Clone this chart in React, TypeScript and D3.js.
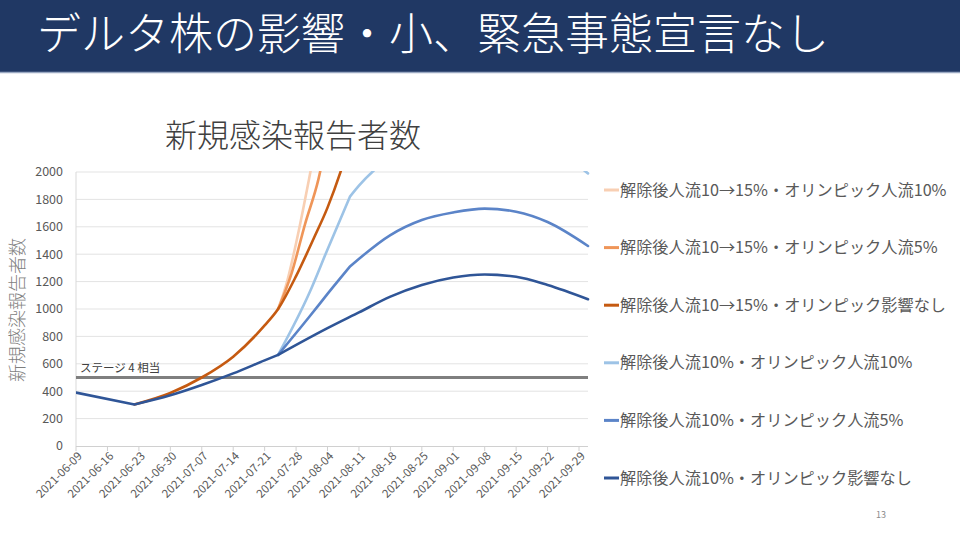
import React from 'react';
import * as d3 from 'd3';

type Pt = [string, number];

const headerTitle = 'デルタ株の影響・小、緊急事態宣言なし';
const chartTitle = '新規感染報告者数';
const yAxisTitle = '新規感染報告者数';
const stageLabel = 'ステージ 4 相当';
const stageValue = 500;
const pageNumber = '13';

const seriesNames = [
  '解除後人流10→15%・オリンピック人流10%',
  '解除後人流10→15%・オリンピック人流5%',
  '解除後人流10→15%・オリンピック影響なし',
  '解除後人流10%・オリンピック人流10%',
  '解除後人流10%・オリンピック人流5%',
  '解除後人流10%・オリンピック影響なし',
];
const seriesColors = ['#f8cfb3', '#ef9558', '#c55a11', '#9dc3e6', '#5b84c8', '#2f5597'];

const lightOrange: Pt[] = [
  ['2021-07-24', 1000], ['2021-07-26', 1200], ['2021-07-28', 1480], ['2021-07-30', 1800],
  ['2021-08-01', 2150], ['2021-08-03', 2600],
];
const midOrange: Pt[] = [
  ['2021-07-24', 1000], ['2021-07-27', 1260], ['2021-07-30', 1620], ['2021-08-02', 1950],
  ['2021-08-05', 2450],
];
const darkOrange: Pt[] = [
  ['2021-06-22', 303], ['2021-06-30', 387], ['2021-07-07', 500], ['2021-07-14', 652],
  ['2021-07-21', 880], ['2021-07-24', 1000], ['2021-07-28', 1240], ['2021-08-01', 1520],
  ['2021-08-04', 1740], ['2021-08-07', 2010], ['2021-08-10', 2330],
];
const lightBlue: Pt[] = [
  ['2021-07-24', 665], ['2021-07-31', 1120], ['2021-08-04', 1435], ['2021-08-09', 1820],
  ['2021-08-11', 1900], ['2021-08-18', 2110], ['2021-08-25', 2240], ['2021-09-01', 2310],
  ['2021-09-08', 2330], ['2021-09-15', 2300], ['2021-09-22', 2200], ['2021-10-01', 1990],
];
const midBlue: Pt[] = [
  ['2021-07-24', 665], ['2021-07-31', 945], ['2021-08-04', 1110], ['2021-08-09', 1310],
  ['2021-08-18', 1540], ['2021-08-25', 1650], ['2021-09-01', 1705], ['2021-09-08', 1733],
  ['2021-09-15', 1710], ['2021-09-22', 1635], ['2021-10-01', 1460],
];
const darkBlue: Pt[] = [
  ['2021-06-09', 390], ['2021-06-22', 303], ['2021-06-30', 370], ['2021-07-07', 445],
  ['2021-07-14', 530], ['2021-07-21', 625], ['2021-07-24', 665], ['2021-08-04', 860],
  ['2021-08-11', 975], ['2021-08-18', 1090], ['2021-08-25', 1175], ['2021-09-01', 1230],
  ['2021-09-08', 1252], ['2021-09-15', 1235], ['2021-09-22', 1175], ['2021-10-01', 1071],
];
const seriesData = [lightOrange, midOrange, darkOrange, lightBlue, midBlue, darkBlue];
const seriesBreaks: string[][] = [[], [], [], ['2021-08-09'], ['2021-08-09'], ['2021-06-22', '2021-07-24']];

const yTicks = [0, 200, 400, 600, 800, 1000, 1200, 1400, 1600, 1800, 2000];
const xTickLabels = [
  '2021-06-09', '2021-06-16', '2021-06-23', '2021-06-30', '2021-07-07', '2021-07-14',
  '2021-07-21', '2021-07-28', '2021-08-04', '2021-08-11', '2021-08-18', '2021-08-25',
  '2021-09-01', '2021-09-08', '2021-09-15', '2021-09-22', '2021-09-29',
];
const xStart = '2021-06-09';
const xEnd = '2021-10-01';

const FONT = "'Noto Sans CJK JP', 'Noto Sans', sans-serif";
const parse = d3.utcParse('%Y-%m-%d');

export default function App() {
  const left = 76, right = 588, top = 172, bottom = 446;
  const x = d3.scaleUtc().domain([parse(xStart)!, parse(xEnd)!]).range([left, right]);
  const y = d3.scaleLinear().domain([0, 2000]).range([bottom, top]);
  const line = d3
    .line<Pt>()
    .x((d) => x(parse(d[0])!))
    .y((d) => y(d[1]))
    .curve(d3.curveMonotoneX);

  const pathFor = (pts: Pt[], breaks: string[]) => {
    const segs: Pt[][] = [];
    let cur: Pt[] = [];
    pts.forEach((p) => {
      cur.push(p);
      if (breaks.includes(p[0])) {
        if (cur.length > 1) segs.push(cur);
        cur = [p];
      }
    });
    if (cur.length > 1) segs.push(cur);
    return segs.map((s) => line(s)).join('');
  };

  const legendTop = 190;
  const legendStep = 57.6;

  return (
    <svg
      width={960}
      height={540}
      style={{ position: 'absolute', left: 0, top: 0, background: '#fff' }}
      fontFamily={FONT}
    >
      <rect x={0} y={0} width={960} height={540} fill="#fff" />
      <rect x={0} y={0} width={960} height={72} fill="#203864" />
      <line x1={0} x2={960} y1={72.5} y2={72.5} stroke="#9aa9c2" strokeWidth={1.5} />
      <text x={37} y={50} fill="#fff" fontSize={44} fontWeight={300}>
        {headerTitle}
      </text>

      <text x={293} y={147} fill="#404040" fontSize={32} textAnchor="middle" fontWeight={300}>
        {chartTitle}
      </text>

      <defs>
        <clipPath id="plotClip">
          <rect x={left} y={top - 1} width={right - left + 2} height={bottom - top + 1} />
        </clipPath>
      </defs>

      {yTicks.map((t) => (
        <g key={t}>
          {t > 0 && (
            <line x1={left} x2={right} y1={y(t)} y2={y(t)} stroke="#e3e3e3" strokeWidth={1} />
          )}
          <text
            x={63}
            y={y(t)}
            dy="0.35em"
            textAnchor="end"
            fontSize={12.5}
            fill="#595959"
          >
            {t}
          </text>
        </g>
      ))}
      <line x1={left} x2={left} y1={top} y2={bottom} stroke="#d9d9d9" strokeWidth={1} />
      <line x1={left} x2={right} y1={bottom + 0.5} y2={bottom + 0.5} stroke="#d0d0d0" strokeWidth={1} />

      {xTickLabels.map((s) => {
        const xx = x(parse(s)!);
        return (
          <g key={s}>
            <line x1={xx} x2={xx} y1={bottom} y2={bottom + 5} stroke="#d0d0d0" strokeWidth={1} />
            <text
              transform={`translate(${xx + 4},${bottom + 8}) rotate(-45)`}
              textAnchor="end"
              dy="0.35em"
              fontSize={11.5}
              fill="#595959"
            >
              {s}
            </text>
          </g>
        );
      })}

      <text
        transform={`translate(18,${310}) rotate(-90)`}
        textAnchor="middle"
        dy="0.35em"
        fontSize={18}
        fill="#7f7f7f"
        fontWeight={300}
      >
        {yAxisTitle}
      </text>

      <line
        x1={left}
        x2={right}
        y1={y(stageValue)}
        y2={y(stageValue)}
        stroke="#7f7f7f"
        strokeWidth={3}
      />
      <text x={80} y={372} fontSize={11.5} fill="#404040">
        {stageLabel}
      </text>

      <g clipPath="url(#plotClip)">
        {seriesData.map((pts, i) => (
          <path
            key={i}
            d={pathFor(pts, seriesBreaks[i])}
            fill="none"
            stroke={seriesColors[i]}
            strokeWidth={2.6}
            strokeLinejoin="round"
            strokeLinecap="round"
          />
        ))}
      </g>

      {seriesNames.map((n, i) => {
        const yy = legendTop + i * legendStep;
        return (
          <g key={n}>
            <line x1={604} x2={619} y1={yy} y2={yy} stroke={seriesColors[i]} strokeWidth={3} />
            <text x={620} y={yy} dy="0.35em" fontSize={16.2} fill="#595959">
              {n}
            </text>
          </g>
        );
      })}

      <text x={881} y={518} fontSize={9} fill="#8c8c8c" textAnchor="middle">
        {pageNumber}
      </text>
    </svg>
  );
}
